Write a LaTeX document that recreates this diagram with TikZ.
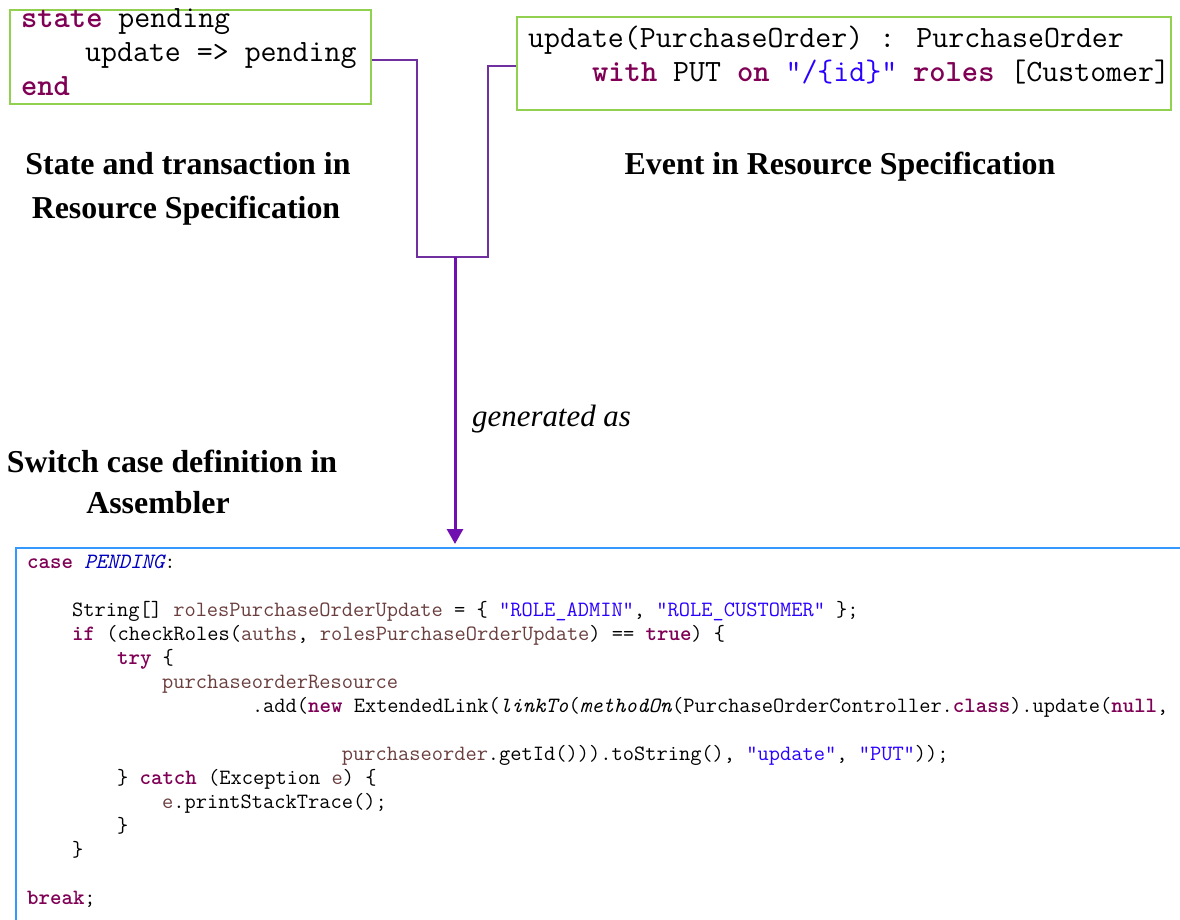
\documentclass[tikz,border=0pt]{standalone}
\usepackage{fontspec}
\setmainfont{Liberation Serif}
\usetikzlibrary{arrows.meta,calc}
\definecolor{kwc}{HTML}{7F0055}
\definecolor{strc}{HTML}{2A00FF}
\definecolor{varc}{HTML}{6A3E3E}
\definecolor{fldc}{HTML}{0000C0}
\definecolor{gbox}{HTML}{92D050}
\definecolor{bbox}{HTML}{3399FF}
\definecolor{conc}{HTML}{7030A0}
\definecolor{arrc}{HTML}{7010B0}
\newcommand\kwd[1]{\textcolor{kwc}{\bfseries #1}}
\newcommand\strg[1]{\textcolor{strc}{#1}}
\newcommand\lvar[1]{\textcolor{varc}{#1}}
\newcommand\fldv[1]{\textcolor{fldc}{\itshape #1}}
\tikzset{
  greenbox/.style={draw=gbox, line width=2bp, rectangle, inner sep=0pt, anchor=north west},
  bluebox/.style={draw=bbox, line width=2bp, rectangle, inner sep=0pt, anchor=north west},
  dsl/.style={font=\fontsize{31.1}{34}\selectfont\ttfamily, inner sep=0pt, anchor=base west},
  java/.style={font=\fontsize{21.9}{24}\selectfont\ttfamily, inner sep=0pt, anchor=base west},
  title/.style={font=\fontsize{32}{44}\selectfont\bfseries, inner sep=0pt, anchor=base},
  note/.style={font=\fontsize{31}{37}\selectfont\itshape, inner sep=0pt, anchor=base west},
  conn/.style={draw=conc, line width=1.5bp},
  genarrow/.style={draw=arrc, line width=3bp, -{Triangle[width=16bp,length=15bp]}, shorten >=3bp}
}
\begin{document}
\begin{tikzpicture}[x=1bp,y=-1bp]
\useasboundingbox (0,0) rectangle (1180,920);
\clip (0,0) rectangle (1180,920);
% boxes
\node[greenbox, minimum width=361bp, minimum height=94bp] (st) at (9,9) {};
\node[greenbox, minimum width=654bp, minimum height=93bp] (ev) at (516,16) {};
\node[bluebox, minimum width=1200bp, minimum height=420bp] (asm) at (15,547) {};
% DSL text
\node[dsl] (st1) at (21,27) {\kwd{state} pending};
\node[dsl] (st2) at (85,61) {update => pending};
\node[dsl] (st3) at (21,95) {\kwd{end}};
\node[dsl] (ev1) at (528,47) {update(PurchaseOrder) : PurchaseOrder};
\node[dsl] (ev2) at (592,81) {\kwd{with} PUT \kwd{on} \strg{"/\{id\}"} \kwd{roles} [Customer]};
% titles
\node[title] (t1a) at (188,174) {State and transaction in};
\node[title] (t1b) at (186,218) {Resource Specification};
\node[title] (t2) at (840,174) {Event in Resource Specification};
\node[title] (t3a) at (172,472) {Switch case definition in};
\node[title] (t3b) at (158,513) {Assembler};
\node[note] (gen) at (472,426) {generated as};
% connectors
\coordinate (lx) at (417,0);
\coordinate (rx) at (488,0);
\coordinate (j) at (455,257);
\draw[conn] ([yshift=-3bp]st.east) -- ([yshift=-3bp]st.east -| lx) |- (j) -- (j -| rx) |- ([yshift=-2.5bp]ev.west);
\draw[genarrow] (j) -- (j |- asm.north);
% Java code
\def\cw{11.24}
\node[java] (c1) at (27,568) {\kwd{case} \fldv{PENDING}:};
\node[java] (c3) at ({27+4*\cw},616) {String[] \lvar{rolesPurchaseOrderUpdate} = \{ \strg{"ROLE\_ADMIN"}, \strg{"ROLE\_CUSTOMER"} \};};
\node[java] (c4) at ({27+4*\cw},640) {\kwd{if} (checkRoles(\lvar{auths}, \lvar{rolesPurchaseOrderUpdate}) == \kwd{true}) \{};
\node[java] (c5) at ({27+8*\cw},664) {\kwd{try} \{};
\node[java] (c6) at ({27+12*\cw},688) {\lvar{purchaseorderResource}};
\node[java] (c7) at ({27+20*\cw},712) {.add(\kwd{new} ExtendedLink(\textit{linkTo}(\textit{methodOn}(PurchaseOrderController.\kwd{class}).update(\kwd{null},};
\node[java] (c9) at ({27+28*\cw},760) {\lvar{purchaseorder}.getId())).toString(), \strg{"update"}, \strg{"PUT"}));};
\node[java] (c10) at ({27+8*\cw},784) {\} \kwd{catch} (Exception \lvar{e}) \{};
\node[java] (c11) at ({27+12*\cw},808) {\lvar{e}.printStackTrace();};
\node[java] (c12) at ({27+8*\cw},832) {\}};
\node[java] (c13) at ({27+4*\cw},856) {\}};
\node[java] (c15) at (27,904) {\kwd{break};};
\end{tikzpicture}
\end{document}
